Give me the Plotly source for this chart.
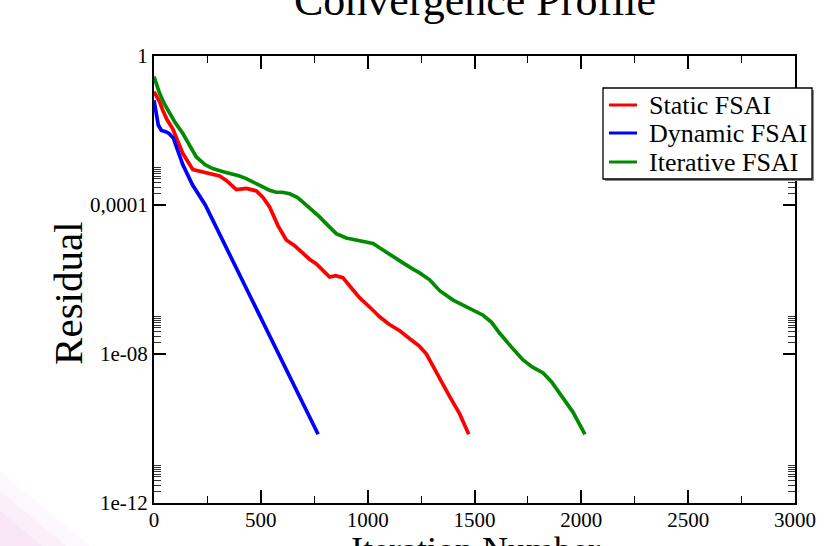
import plotly.graph_objects as go

# Residual history of the three preconditioners (iteration, residual)
static_iter = [0, 26, 41, 60, 88, 110, 135, 182, 230, 260, 307, 340, 385, 432, 479, 510,
               541, 580, 619, 660, 697, 728, 760, 822, 850, 884, 920, 963, 1010, 1056,
               1100, 1150, 1200, 1243, 1275, 1306, 1345, 1384, 1430, 1473]
static_res = [1.1e-1, 5.9e-2, 3.5e-2, 2.0e-2, 1.1e-2, 5.0e-3, 2.4e-3, 8.9e-4, 7.6e-4,
              7.1e-4, 6.0e-4, 4.5e-4, 2.6e-4, 2.8e-4, 2.4e-4, 1.6e-4,
              8.9e-5, 2.8e-5, 1.15e-5, 7.9e-6, 5.0e-6, 3.5e-6, 2.6e-6, 1.17e-6, 1.26e-6,
              1.12e-6, 6.3e-7, 3.2e-7, 1.8e-7, 1.0e-7,
              6.3e-8, 4.2e-8, 2.5e-8, 1.6e-8, 1.0e-8, 4.6e-9, 1.8e-9, 7.2e-10, 2.5e-10,
              7.0e-11]

dynamic_iter = [0, 20, 35, 55, 70, 90, 135, 180, 240, 300, 360, 420, 480, 540, 600,
                660, 720, 768]
dynamic_res = [6.5e-2, 1.4e-2, 1.0e-2, 9.3e-3, 8.3e-3, 6.3e-3, 1.2e-3, 3.5e-4, 1.0e-4,
               2.0e-5, 4.0e-6, 8.3e-7, 1.66e-7, 3.3e-8, 6.6e-9,
               1.3e-9, 2.5e-10, 7.0e-11]

iterative_iter = [0, 10, 26, 50, 73, 100, 135, 165, 198, 240, 275, 320, 354, 400, 432,
                  470, 510, 540, 572, 600, 635, 670, 697, 735, 775, 815, 853, 900, 947,
                  985, 1025, 1070, 1118, 1165, 1212, 1243, 1290, 1337, 1400, 1462, 1500,
                  1540, 1580, 1618, 1670, 1727, 1770, 1821, 1860, 1899, 1960, 2017]
iterative_res = [2.8e-1, 1.8e-1, 1.0e-1, 5.0e-2, 2.9e-2, 1.6e-2, 8.3e-3, 4.0e-3, 1.95e-3,
                 1.2e-3, 9.5e-4, 7.9e-4, 7.1e-4, 6.0e-4, 5.1e-4,
                 4.0e-4, 3.1e-4, 2.5e-4, 2.2e-4, 2.2e-4, 2.0e-4, 1.6e-4, 1.2e-4, 7.9e-5,
                 4.8e-5, 2.8e-5, 1.7e-5, 1.3e-5, 1.15e-5,
                 1.07e-5, 9.3e-6, 6.3e-6, 4.1e-6, 2.8e-6, 1.9e-6, 1.5e-6, 9.8e-7, 5.0e-7,
                 2.8e-7, 1.9e-7, 1.5e-7,
                 1.1e-7, 7.1e-8, 3.6e-8, 1.6e-8, 6.9e-9, 4.5e-9, 3.1e-9, 1.8e-9, 8.9e-10,
                 2.8e-10, 7.0e-11]

series_names = ["Static FSAI", "Dynamic FSAI", "Iterative FSAI"]
series_colors = ["#ff0000", "#0000ff", "#008b00"]

x_ticks = [0, 500, 1000, 1500, 2000, 2500, 3000]
x_minor = [250, 750, 1250, 1750, 2250, 2750]
y_ticks = [1e-12, 1e-8, 1e-4, 1]
y_labels = ["1e-12", "1e-08", "0,0001", "1"]
y_minor = [k * 10.0 ** m for m in (-12, -8, -4) for k in range(2, 11)]

SERIF = "Liberation Serif"

# plot area in pixels, used to place the frame-relative decorations
L, R, T, B = 154, 795, 56, 503


def px(xp):
    return (xp - L) / (R - L)


def py(yp):
    return (B - yp) / (B - T)


fig = go.Figure()
series = [(static_iter, static_res), (dynamic_iter, dynamic_res),
          (iterative_iter, iterative_res)]
for (xs, ys), name, color in zip(series, series_names, series_colors):
    fig.add_trace(go.Scatter(x=xs, y=ys, mode="lines", name=name,
                             line=dict(color=color, width=3.7)))

axis_common = dict(showline=True, linecolor="black", linewidth=2, mirror="ticks",
                   ticks="inside", tickcolor="black", tickwidth=1.5, showgrid=False,
                   zeroline=False, tickfont=dict(family=SERIF, size=21, color="black"))

fig.update_xaxes(range=[0, 3000], tickmode="array", tickvals=x_ticks, ticklen=13,
                 ticklabelstandoff=-3,
                 minor=dict(tickmode="array", tickvals=x_minor, ticklen=7, ticks="inside",
                            tickcolor="black", tickwidth=1.2, showgrid=False),
                 **axis_common)
fig.update_yaxes(type="log", range=[-12, 0], tickmode="array", tickvals=y_ticks,
                 ticktext=y_labels, ticklen=12,
                 minor=dict(tickmode="array", tickvals=y_minor, ticklen=7, ticks="inside",
                            tickcolor="#333333", tickwidth=0.8, showgrid=False),
                 **axis_common)

fig.add_annotation(text="Convergence Profile", xref="paper", yref="paper", x=0.5, y=1.125,
                   xanchor="center", yanchor="middle", showarrow=False,
                   font=dict(family=SERIF, size=44, color="black"))
fig.add_annotation(text="Iteration Number", xref="paper", yref="paper", x=0.502, y=-0.106,
                   xanchor="center", yanchor="middle", showarrow=False,
                   font=dict(family=SERIF, size=36, color="black"))
fig.add_annotation(text="Residual", xref="paper", yref="paper", x=-0.134, y=0.468,
                   xanchor="center", yanchor="middle", textangle=-90, showarrow=False,
                   font=dict(family=SERIF, size=41, color="black"))

# legend box with a small drop shadow
shapes = [
    dict(type="rect", xref="paper", yref="paper", x0=px(605), x1=px(814), y0=py(90),
         y1=py(181), line=dict(width=0), fillcolor="#8a8a8a", layer="above"),
    dict(type="rect", xref="paper", yref="paper", x0=px(603), x1=px(812), y0=py(88),
         y1=py(179), line=dict(color="black", width=1.3), fillcolor="white", layer="above"),
]
rows = [105, 133, 162]
for name, color, yrow in zip(series_names, series_colors, rows):
    shapes.append(dict(type="line", xref="paper", yref="paper", x0=px(609), x1=px(637),
                       y0=py(yrow), y1=py(yrow), line=dict(color=color, width=3),
                       layer="above"))
    fig.add_annotation(text=name, xref="paper", yref="paper", x=px(647), y=py(yrow),
                       xanchor="left", yanchor="middle", showarrow=False,
                       font=dict(family=SERIF, size=26, color="black"))

# faint pink tint in the lower-left corner
for d, op in [(75, 0.18), (55, 0.25), (35, 0.35)]:
    shapes.append(dict(type="path", xref="paper", yref="paper",
                       path=f"M {px(0)},{py(546)} L {px(0)},{py(546 - d)} "
                            f"L {px(d * 1.2)},{py(546)} Z",
                       fillcolor="#f6d6f2", opacity=op, line=dict(width=0), layer="below"))

fig.update_layout(
    width=837, height=546,
    margin=dict(l=L, r=837 - R, t=T, b=546 - B),
    paper_bgcolor="white", plot_bgcolor="white",
    showlegend=False,
    shapes=shapes,
)

fig.write_html("out.html")
